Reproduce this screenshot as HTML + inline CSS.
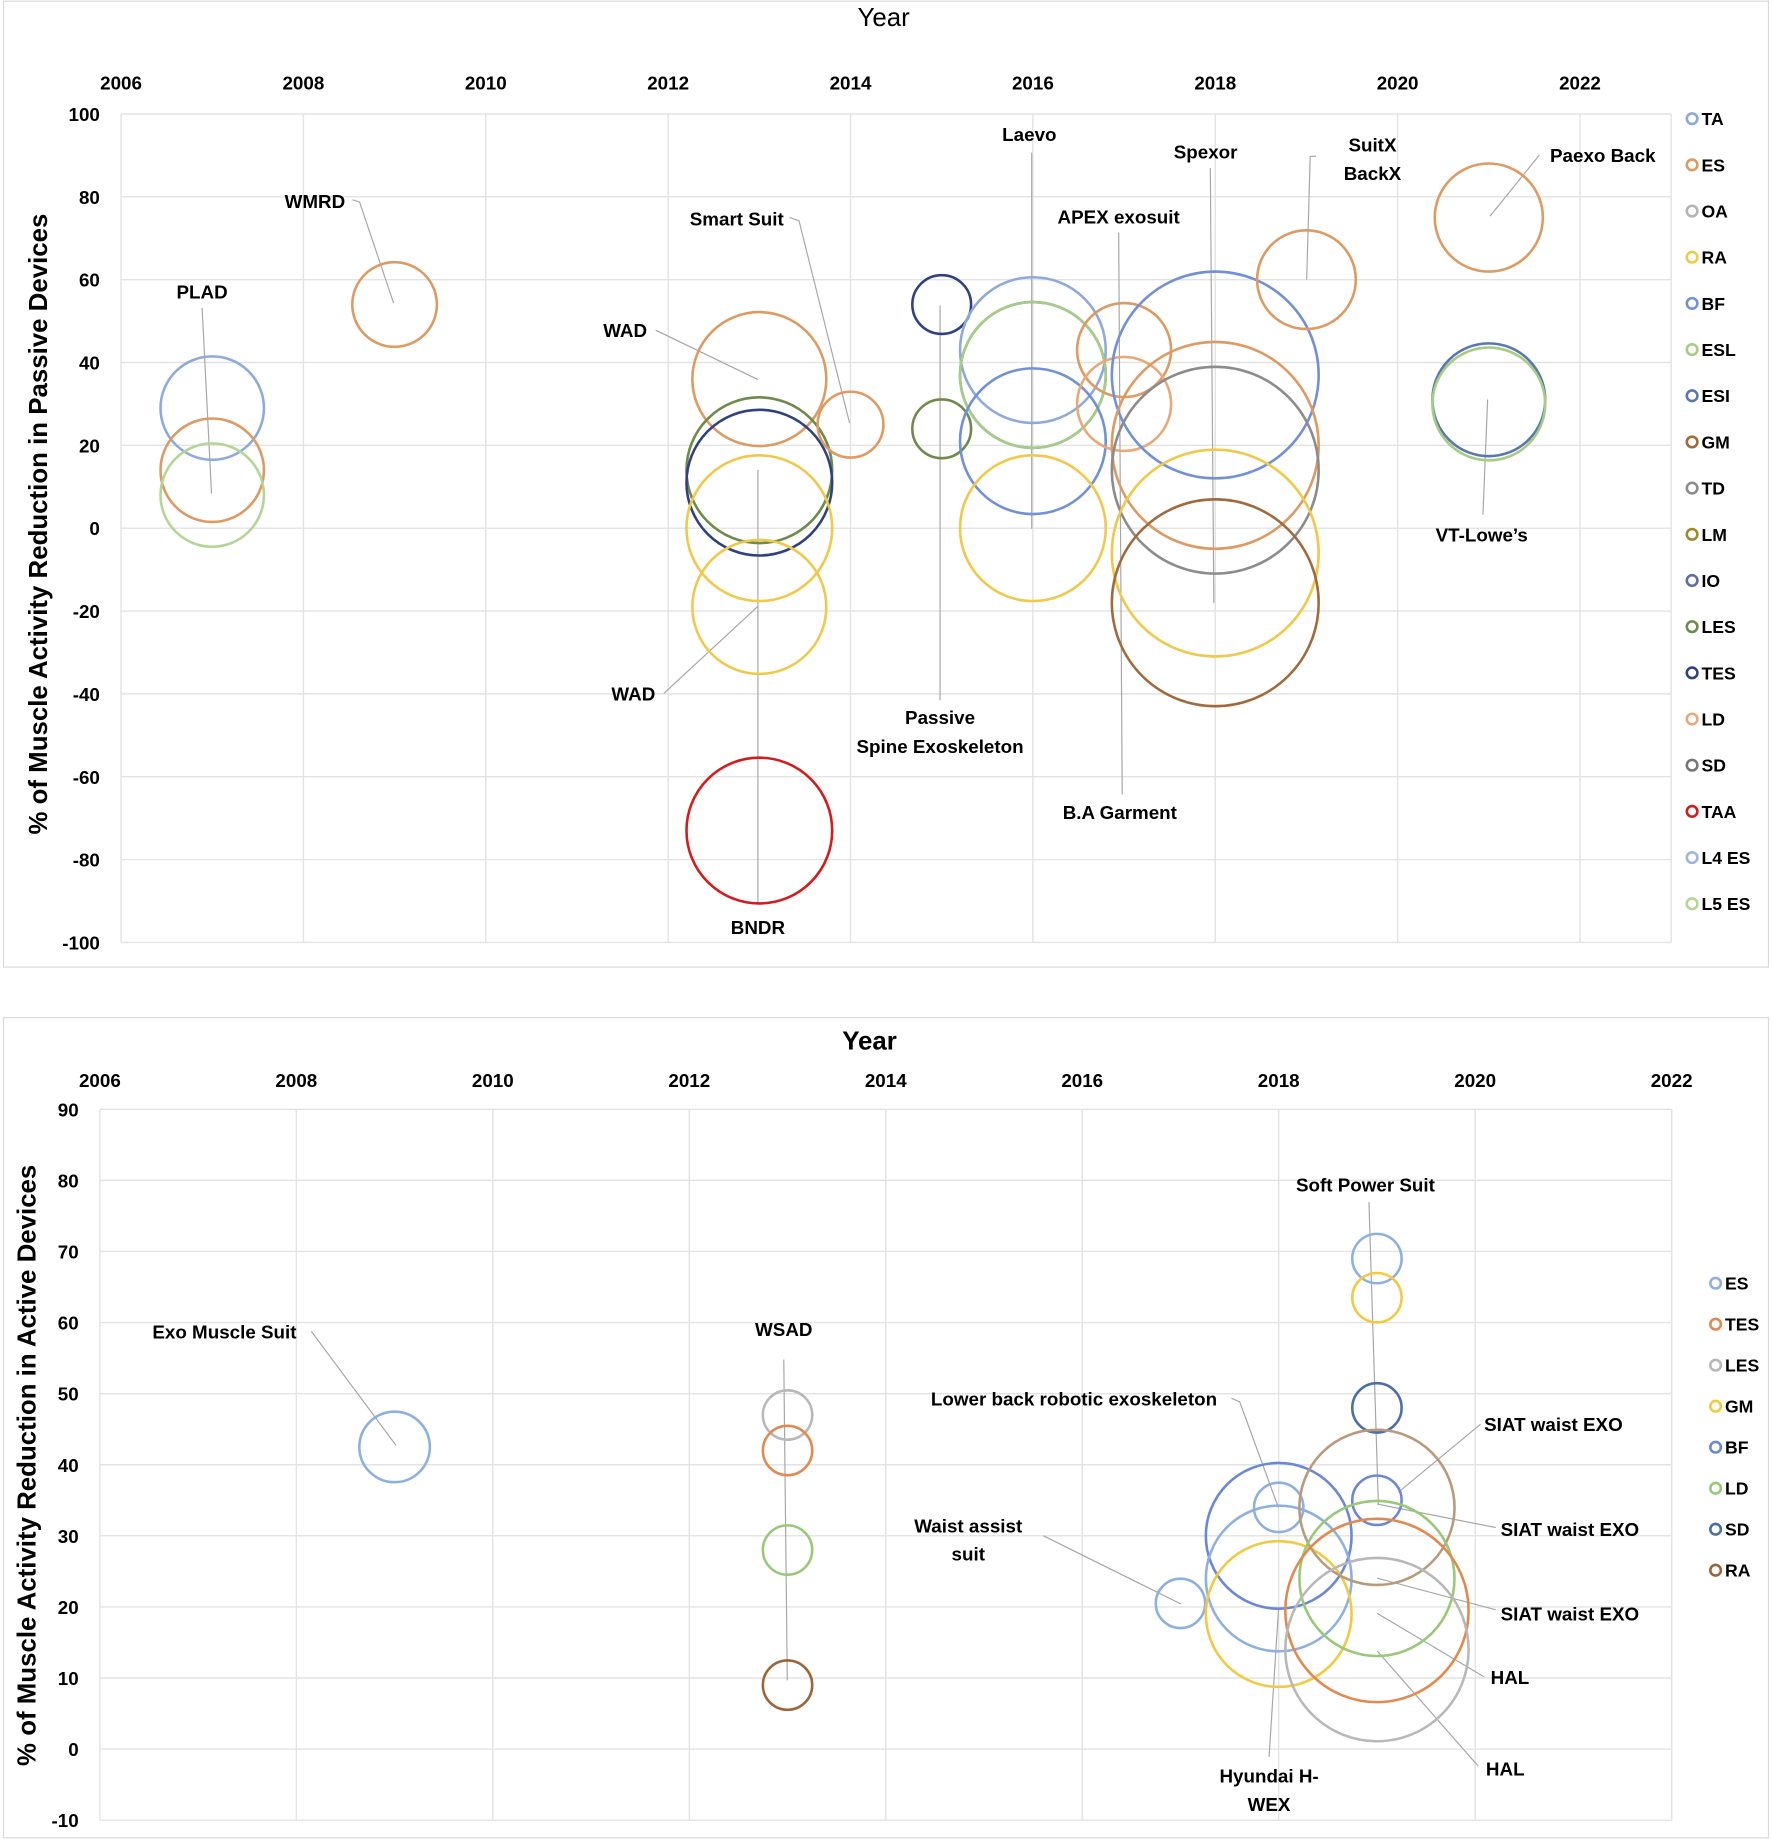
<!DOCTYPE html>
<html><head><meta charset="utf-8">
<style>
html,body{margin:0;padding:0;background:#fff;}
svg{display:block;font-family:"Liberation Sans",sans-serif;}
</style></head>
<body>
<svg id="chart" width="1772" height="1839" viewBox="0 0 1508 1565" preserveAspectRatio="none" xmlns="http://www.w3.org/2000/svg">
<rect x="0" y="0" width="1508" height="1565" fill="#fff"/>
<rect x="3" y="1" width="1502" height="822" fill="none" stroke="#d9d9d9"/>
<rect x="3" y="866" width="1502" height="698" fill="none" stroke="#d9d9d9"/>
<g id="top"></g>
<g id="bot"></g>
</svg>
<script>
// ---------- Passive devices data ----------
const pYears = [2007,2007,2007,2009,2013,2013,2013,2013,2013,2013,2014,2015,2015,2016,2016,2016,2016,2016,2017,2017,2018,2018,2018,2018,2018,2019,2021,2021,2021];
const pValues = [29,14,8,54,36,14,11,0,-19,-73,25,54,24,43,37,37,21,0,43,30,37,20,14,-6,-18,60,75,31,30];
const pSizes = [44,44,44,36,57,62,62,62,57,62,28,25,25,62,62,62,62,62,40,40,88,88,88,88,88,42,46,48,48];
const pSeries = ["TA","ES","L5 ES","ES","ES","LES","TES","RA","RA","TAA","ES","TES","LES","TA","ESI","ESL","BF","RA","ES","LD","BF","ES","TD","RA","GM","ES","ES","ESI","ESL"];
const pLegend = ["TA","ES","OA","RA","BF","ESL","ESI","GM","TD","LM","IO","LES","TES","LD","SD","TAA","L4 ES","L5 ES"];
const pXTicks = [2006,2008,2010,2012,2014,2016,2018,2020,2022];
const pYTicks = [100,80,60,40,20,0,-20,-40,-60,-80,-100];
// ---------- Active devices data ----------
const aYears = [2009,2013,2013,2013,2013,2017,2018,2018,2018,2018,2019,2019,2019,2019,2019,2019,2019,2019];
const aValues = [42.5,47,42,28,9,20.5,34,30,24,19,69,63.5,48,34,35,24,19.5,14];
const aSizes = [30,21,21,21,21,21,21,62,62,62,21,21,21,66,21,66,78,78];
const aSeries = ["ES","LES","TES","LD","RA","ES","ES","BF","ES","GM","ES","GM","SD","RA2","BF","LD","TES","LES"];
const aLegend = ["ES","TES","LES","GM","BF","LD","SD","RA"];
const aXTicks = [2006,2008,2010,2012,2014,2016,2018,2020,2022];
const aYTicks = [90,80,70,60,50,40,30,20,10,0,-10];

const colors = {"TA":"#8eaadb","ES":"#dd9a62","OA":"#b4b4b4","RA":"#f0c84a","BF":"#7190d6","ESL":"#a6cc85","ESI":"#5a78ad","GM":"#a06a3c","TD":"#8c8c8c","LM":"#9c8a2c","IO":"#5a6fa0","LES":"#6f8a4a","TES":"#2f4280","LD":"#e8a97a","SD":"#767676","TAA":"#d41c1c","L4 ES":"#9fb6e2","L5 ES":"#b3d696"};
const aColors = {"ES":"#8eb0e0","TES":"#e08a50","LES":"#b8b8b8","GM":"#f2c940","BF":"#6a88d4","LD":"#98c878","SD":"#4a6ea8","RA":"#9c6438","RA2":"#b99a7a"};

const NS = "http://www.w3.org/2000/svg";
function mk(parent, tag, attrs, text){
  const e = document.createElementNS(NS, tag);
  for (const k in attrs) e.setAttribute(k, attrs[k]);
  if (text !== undefined) e.textContent = text;
  parent.appendChild(e);
  return e;
}

function drawChart(g, cfg){
  const xs = v => cfg.x0 + (v - cfg.xmin) * cfg.xper;
  const ys = v => cfg.y0 + (cfg.ymax - v) * cfg.yper;
  // gridlines
  cfg.xTicks.forEach(t => {
    const l = mk(g,'line',{x1:xs(t),x2:xs(t),y1:ys(cfg.ymax),y2:ys(cfg.ymin),stroke:'#e3e3e3','stroke-width':1.2});
    
    
    const tx = mk(g,'text',{x:xs(t),y:cfg.xLabelY,'text-anchor':'middle','font-size':16,'font-weight':'bold'},t);
    
    
  });
  mk(g,'line',{x1:xs(cfg.xmax),x2:xs(cfg.xmax),y1:ys(cfg.ymax),y2:ys(cfg.ymin),stroke:'#e3e3e3','stroke-width':1.2});
  cfg.yTicks.forEach(t => {
    const l = mk(g,'line',{x1:xs(cfg.xmin),x2:xs(cfg.xmax),y1:ys(t),y2:ys(t),stroke:'#e3e3e3','stroke-width':1.2});
    
    
    const tx = mk(g,'text',{x:cfg.yLabelX,y:ys(t)+6,'text-anchor':'end','font-size':16,'font-weight':'bold'},t);
    
    
  });
  // leader lines
  cfg.leaders.forEach(pts => {
    const l = mk(g,'polyline',{points:pts,fill:'none',stroke:'#a6a6a6','stroke-width':1});
    
    
  });
  // bubbles
  for (let i=0;i<cfg.years.length;i++){
    const c = mk(g,'circle',{cx:xs(cfg.years[i]),cy:ys(cfg.values[i]),r:cfg.sizes[i],fill:'none',stroke:cfg.colors[cfg.series[i]],'stroke-width':2.2});
    
    
  }
  // labels
  cfg.labels.forEach(lb => {
    const t = mk(g,'text',{x:lb[1],y:lb[2],'text-anchor':'middle','font-size':16,'font-weight':'bold'},lb[0]);
    
    
  });
  // legend
  cfg.legend.forEach((s,i)=>{
    const y = cfg.legY0 + i*cfg.legStep;
    const c = mk(g,'circle',{cx:cfg.legX,cy:y,r:4.5,fill:'none',stroke:cfg.colors[s],'stroke-width':2.2});
    
    
    const t = mk(g,'text',{x:cfg.legX+8,y:y+5.5,'font-size':15,'font-weight':'bold'},s);
    
    
  });
  // titles
  const tt = mk(g,'text',{x:cfg.titleX,y:cfg.titleY,'text-anchor':'middle','font-size':cfg.titleSize,'font-weight':cfg.titleWeight},'Year');
  
  
  const yt = mk(g,'text',{x:0,y:0,'text-anchor':'middle','font-size':22,'font-weight':'bold',transform:'translate('+cfg.yTitleX+','+cfg.yTitleY+') rotate(-90)'},cfg.yTitle);
  
  
}

drawChart(document.getElementById('top'),{
  years:pYears, values:pValues, sizes:pSizes, series:pSeries, colors:colors, legend:pLegend,
  xTicks:pXTicks, yTicks:pYTicks, xmin:2006, xmax:2023, ymin:-100, ymax:100,
  x0:103, xper:77.6, y0:97, yper:3.525, xLabelY:76, yLabelX:85,
  legX:1440, legY0:101, legStep:39.3,
  titleX:752, titleY:22, titleSize:22, titleWeight:'normal',
  yTitleX:40, yTitleY:446, yTitle:'% of Muscle Activity Reduction in Passive Devices',
  leaders:["172,262 180,420","300,170 306,172 335,258","672,185 680,188 723,360","558,281 645,323","565,590 645,516","645,770 645,400","800,596 800,260","878,130 878,450","952,198 955,676","1030,143 1033,513","1120,133 1115,133 1112,238","1310,132 1268,184","1262,438 1266,340"],
  labels:[["PLAD",172,254],["WMRD",268,177],["Smart Suit",627,192],["WAD",532,287],["WAD",539,596],["BNDR",645,795],["Passive",800,616],["Spine Exoskeleton",800,641],["Laevo",876,120],["APEX exosuit",952,190],["B.A Garment",953,697],["Spexor",1026,135],["SuitX",1168,129],["BackX",1168,153],["Paexo Back",1364,138],["VT-Lowe’s",1261,461]]
});

drawChart(document.getElementById('bot'),{
  years:aYears, values:aValues, sizes:aSizes, series:aSeries, colors:aColors, legend:aLegend,
  xTicks:aXTicks, yTicks:aYTicks, xmin:2006, xmax:2022, ymin:-10, ymax:90,
  x0:85, xper:83.6, y0:944, yper:6.05, xLabelY:925, yLabelX:67,
  legX:1460, legY0:1092, legStep:34.9,
  titleX:740, titleY:893, titleSize:22, titleWeight:'bold',
  yTitleX:30, yTitleY:1247, yTitle:'% of Muscle Activity Reduction in Active Devices',
  leaders:["265,1133 337,1230","667,1157 670,1430","1165,1023 1173,1280","1048,1190 1055,1193 1088,1283","888,1307 1005,1365","1260,1212 1190,1270","1273,1300 1172,1280","1273,1370 1172,1343","1263,1427 1172,1373","1258,1503 1172,1405","1080,1495 1088,1370"],
  labels:[["Exo Muscle Suit",191,1139],["WSAD",667,1137],["Soft Power Suit",1162,1014],["Lower back robotic exoskeleton",914,1196],["Waist assist",824,1304],["suit",824,1328],["SIAT waist EXO",1322,1218],["SIAT waist EXO",1336,1307],["SIAT waist EXO",1336,1379],["HAL",1285,1433],["HAL",1281,1511],["Hyundai H-",1080,1517],["WEX",1080,1541]]
});
</script>
</body></html>
